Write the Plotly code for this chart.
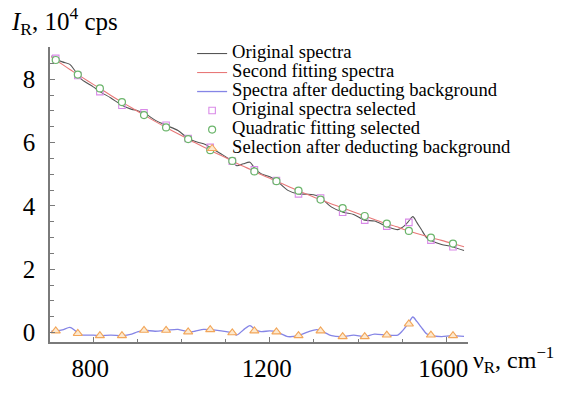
import plotly.graph_objects as go

# ---- data ----
curve_x = [705, 716, 730, 747, 757, 766, 775, 800, 815, 840, 866, 887, 900, 915, 940, 966, 992,
           1015, 1030, 1050, 1066, 1090, 1115, 1125, 1140, 1155, 1166, 1180, 1200, 1215, 1241,
           1264, 1287, 1306, 1317, 1340, 1366, 1390, 1415, 1437, 1464, 1490, 1501, 1513, 1524,
           1533, 1543, 1555, 1562, 1589, 1611, 1640]
original = [8.74, 8.65, 8.55, 8.47, 8.30, 8.11, 7.98, 7.76, 7.61, 7.41, 7.17, 7.05, 7.01, 6.94,
            6.71, 6.54, 6.38, 6.13, 6.04, 5.96, 5.84, 5.64, 5.41, 5.27, 5.33, 5.38, 5.18, 5.02,
            4.92, 4.80, 4.49, 4.38, 4.37, 4.33, 4.24, 3.96, 3.80, 3.73, 3.55, 3.52, 3.36, 3.25,
            3.33, 3.49, 3.66, 3.48, 3.26, 3.00, 2.93, 2.78, 2.72, 2.59]
fitted = [8.70, 8.60, 8.47, 8.31, 8.22, 8.14, 8.06, 7.84, 7.71, 7.49, 7.27, 7.10, 6.99, 6.87,
          6.67, 6.47, 6.28, 6.11, 6.00, 5.86, 5.75, 5.59, 5.42, 5.35, 5.25, 5.16, 5.08, 4.99,
          4.87, 4.78, 4.62, 4.48, 4.35, 4.24, 4.19, 4.06, 3.93, 3.81, 3.68, 3.57, 3.44, 3.33,
          3.27, 3.22, 3.17, 3.13, 3.09, 3.04, 3.01, 2.91, 2.82, 2.71]
deducted = [0.04, 0.05, 0.08, 0.16, 0.08, -0.03, -0.08, -0.08, -0.10, -0.08, -0.10, -0.05, 0.02,
            0.07, 0.04, 0.07, 0.10, 0.02, 0.04, 0.10, 0.09, 0.05, -0.01, -0.08, 0.08, 0.22, 0.10,
            0.03, 0.05, 0.02, -0.13, -0.10, 0.02, 0.09, 0.05, -0.10, -0.13, -0.08, -0.13, -0.05,
            -0.08, -0.08, 0.06, 0.27, 0.49, 0.35, 0.17, -0.04, -0.08, -0.13, -0.10, -0.12]

sel_x = [715, 765, 815, 865, 915, 965, 1015, 1065, 1115, 1165, 1215, 1265, 1315, 1365, 1415,
         1465, 1515, 1565, 1615]
sel_original = [8.66, 8.12, 7.61, 7.18, 6.94, 6.55, 6.13, 5.85, 5.41, 5.14, 4.80, 4.38, 4.25,
                3.80, 3.55, 3.36, 3.48, 2.92, 2.71]
sel_fit = [8.61, 8.15, 7.71, 7.28, 6.87, 6.48, 6.11, 5.76, 5.42, 5.09, 4.78, 4.48, 4.20, 3.93,
           3.68, 3.44, 3.21, 3.00, 2.81]
sel_deducted = [0.05, -0.03, -0.10, -0.10, 0.07, 0.07, 0.02, 0.09, -0.01, 0.05, 0.02, -0.10,
                0.05, -0.13, -0.13, -0.08, 0.27, -0.08, -0.10]

names = ["Original spectra", "Second fitting spectra", "Spectra after deducting background",
         "Original spectra selected", "Quadratic fitting selected",
         "Selection after deducting background"]

FONT = "Liberation Serif"


def lbl(t):
    return '<span style="font-size:18.6px">' + t + '</span>'


fig = go.Figure()
fig.add_trace(go.Scatter(x=curve_x, y=original, mode="lines", name=lbl(names[0]),
                         line=dict(color="#555555", width=1.1, shape="spline", smoothing=0.8)))
fig.add_trace(go.Scatter(x=curve_x, y=fitted, mode="lines", name=lbl(names[1]),
                         line=dict(color="#e87878", width=1.1, shape="spline", smoothing=0.8)))
fig.add_trace(go.Scatter(x=curve_x, y=deducted, mode="lines", name=lbl(names[2]),
                         line=dict(color="#8585e6", width=1.3, shape="spline", smoothing=0.8)))
fig.add_trace(go.Scatter(x=sel_x, y=sel_original, mode="markers", name=lbl(names[3]),
                         marker=dict(symbol="square-open", size=6.5, color="#d98ae8",
                                     line=dict(width=1.1))))
fig.add_trace(go.Scatter(x=sel_x, y=sel_fit, mode="markers", name=lbl(names[4]),
                         marker=dict(symbol="circle", size=7, color="white",
                                     line=dict(color="#6bb56b", width=1.2))))
fig.add_trace(go.Scatter(x=sel_x, y=sel_deducted, mode="markers", name=lbl(names[5]),
                         marker=dict(symbol="triangle-up", size=8, color="#fde9cf",
                                     line=dict(color="#f2a65a", width=1.1))))

axis_common = dict(showgrid=False, zeroline=False, showline=True, linecolor="#7a7a7a",
                   linewidth=1.6, ticks="inside", tickcolor="#7a7a7a", tickwidth=1.2,
                   ticklen=5, tickfont=dict(family=FONT, size=25, color="black"))

fig.update_xaxes(range=[702, 1649], tick0=800, dtick=400, ticklabelstandoff=3,
                 ticklabelshift=-3,
                 minor=dict(dtick=100, tick0=800, ticks="inside", ticklen=3,
                            tickcolor="#7a7a7a", tickwidth=1.2),
                 **axis_common)
fig.update_yaxes(range=[-0.3, 9.02], tick0=0, dtick=2, ticklabelstandoff=8,
                 minor=dict(dtick=0.5, tick0=0, ticks="inside", ticklen=4,
                            tickcolor="#7a7a7a", tickwidth=1.2),
                 **axis_common)

fig.update_layout(
    width=569, height=394,
    margin=dict(l=50, r=101, t=47, b=41),
    plot_bgcolor="white", paper_bgcolor="white",
    font=dict(family=FONT, color="black"),
    showlegend=True,
    legend=dict(x=0.34, xanchor="left", y=1.027, yanchor="top",
                bgcolor="rgba(0,0,0,0)", borderwidth=0,
                font=dict(family=FONT, size=12, color="black"),
                itemwidth=30, tracegroupgap=0),
    annotations=[
        dict(text="<i>I</i><sub>R</sub>, 10<sup>4</sup> cps", xref="paper", yref="paper",
             x=-0.098, y=1.088, xanchor="left", yanchor="middle", showarrow=False,
             font=dict(family=FONT, size=25, color="black")),
        dict(text="ν<sub>R</sub>, cm<sup>−1</sup>", xref="paper", yref="paper",
             x=1.008, y=-0.062, xanchor="left", yanchor="middle", showarrow=False,
             font=dict(family=FONT, size=24, color="black")),
    ],
)

fig.write_html("out.html")
